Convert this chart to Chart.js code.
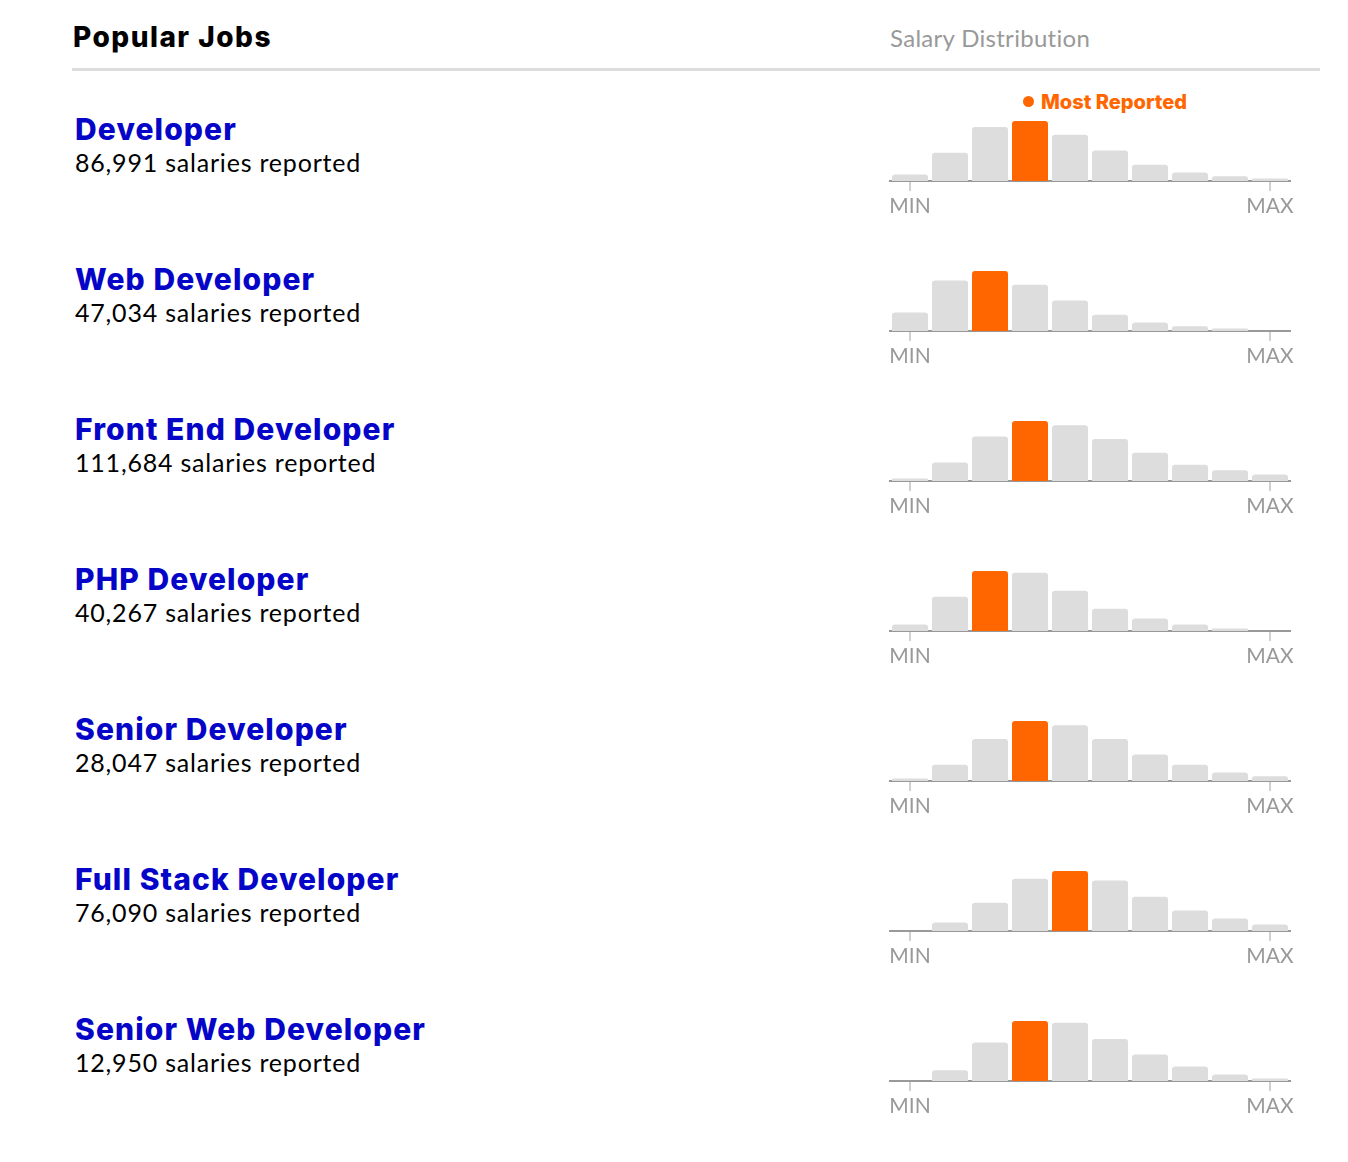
<!DOCTYPE html>
<html>
<head>
<meta charset="utf-8">
<script src="https://cdn.jsdelivr.net/npm/chart.js@4.4.0/dist/chart.umd.min.js"></script>
<style>
  body { margin: 0; background: #fff; font-family: Lato, "Noto Sans", sans-serif; }
  #page { position: relative; width: 1348px; height: 1162px; overflow: hidden; }
  .hdr { position: absolute; left: 73px; top: 17px; font-family: Inter, Lato, sans-serif; font-size: 28px; font-weight: 800; color: #000; line-height: 40px; white-space: nowrap; letter-spacing: 1.5px; }
  .dist { position: absolute; left: 890px; top: 21px; font-size: 24px; color: #999; line-height: 34px; white-space: nowrap; letter-spacing: 0.3px; }
  .rule { position: absolute; left: 72px; top: 68px; width: 1248px; height: 3px; background: #ddd; }
  .job { position: absolute; left: 75px; font-family: Inter, Lato, sans-serif; font-size: 30px; font-weight: 800; color: #0505c8; line-height: 36px; white-space: nowrap; letter-spacing: 1.1px; }
  .count { position: absolute; left: 75px; font-size: 25px; color: #000; line-height: 30px; white-space: nowrap; letter-spacing: 0.8px; }
  canvas { position: absolute; left: 880px; }
  .most { position: absolute; left: 1023px; top: 89px; font-family: Inter, Lato, sans-serif; font-size: 20px; font-weight: 800; color: #ff6600; line-height: 26px; white-space: nowrap; letter-spacing: 0px; }
  .most .dot { display: inline-block; width: 11px; height: 11px; border-radius: 50%; background: #ff6600; margin-right: 7px; vertical-align: 2px; }
</style>
</head>
<body>
<div id="page">
  <div class="hdr">Popular Jobs</div>
  <div class="dist">Salary Distribution</div>
  <div class="rule"></div>
  <div class="most"><span class="dot"></span>Most Reported</div>
</div>
<script>
// ---- Data ----
const jobTitles = ["Developer", "Web Developer", "Front End Developer", "PHP Developer", "Senior Developer", "Full Stack Developer", "Senior Web Developer"];
const reportCounts = ["86,991", "47,034", "111,684", "40,267", "28,047", "76,090", "12,950"];
const salaryBins = ["b1", "b2", "b3", "b4", "b5", "b6", "b7", "b8", "b9", "b10"];
const axisTickLabels = ["MIN", "MAX"];
// relative share of reports per salary bin (tallest bin = 100)
const developer          = [11, 47, 90, 100, 77, 51, 27, 14, 8, 4];
const webDeveloper       = [31, 84, 100, 77, 51, 27, 14, 8, 4, 0];
const frontEndDeveloper  = [4, 31, 74, 100, 93, 70, 47, 27, 18, 11];
const phpDeveloper       = [11, 57, 100, 97, 67, 37, 21, 11, 4, 0];
const seniorDeveloper    = [4, 27, 70, 100, 93, 70, 44, 27, 14, 8];
const fullStackDeveloper = [0, 14, 47, 87, 100, 84, 57, 34, 21, 11];
const seniorWebDeveloper = [0, 18, 64, 100, 97, 70, 44, 24, 11, 4];
const seriesList = [developer, webDeveloper, frontEndDeveloper, phpDeveloper, seniorDeveloper, fullStackDeveloper, seniorWebDeveloper];

// ---- Layout ----
const page = document.getElementById('page');
const ROW_STEP = 150;

seriesList.forEach((values, i) => {
  const title = document.createElement('div');
  title.className = 'job';
  title.style.top = (111 + ROW_STEP * i) + 'px';
  title.textContent = jobTitles[i];
  page.appendChild(title);

  const count = document.createElement('div');
  count.className = 'count';
  count.style.top = (147 + ROW_STEP * i) + 'px';
  count.textContent = reportCounts[i] + ' salaries reported';
  page.appendChild(count);

  const canvas = document.createElement('canvas');
  canvas.width = 420; canvas.height = 110;
  canvas.style.width = '420px'; canvas.style.height = '110px';
  canvas.style.top = (111 + ROW_STEP * i) + 'px';
  page.appendChild(canvas);

  const peak = values.indexOf(Math.max(...values));
  const last = salaryBins.length - 1;

  new Chart(canvas, {
    type: 'bar',
    data: {
      labels: salaryBins,
      datasets: [{
        data: values,
        backgroundColor: ctx => ctx.dataIndex === peak ? '#ff6600' : '#dddddd',
        borderRadius: { topLeft: 3, topRight: 3, bottomLeft: 0, bottomRight: 0 },
        borderSkipped: 'bottom',
        barPercentage: 0.9,
        categoryPercentage: 1.0
      }]
    },
    options: {
      responsive: false,
      devicePixelRatio: 1,
      animation: false,
      layout: { padding: { left: 10, right: 10, top: 10, bottom: 0 } },
      plugins: { legend: { display: false }, tooltip: { enabled: false } },
      scales: {
        y: { display: false, min: 0, max: 100 },
        x: {
          z: 1,
          border: { display: true, color: '#999999', width: 2 },
          grid: {
            offset: false,
            drawOnChartArea: false,
            drawTicks: true,
            tickLength: 10,
            lineWidth: 2,
            color: ctx => (ctx.index === 0 || ctx.index === last) ? '#d0d0d0' : 'rgba(0,0,0,0)'
          },
          ticks: {
            autoSkip: false,
            maxRotation: 0,
            padding: 3,
            color: '#999999',
            font: { family: 'Lato, "Noto Sans", sans-serif', size: 21 },
            callback: (v, idx) => idx === 0 ? axisTickLabels[0] : (idx === last ? axisTickLabels[1] : '')
          },
          afterFit: scale => { scale.height = 40; }
        }
      }
    }
  });
});
</script>
</body>
</html>
